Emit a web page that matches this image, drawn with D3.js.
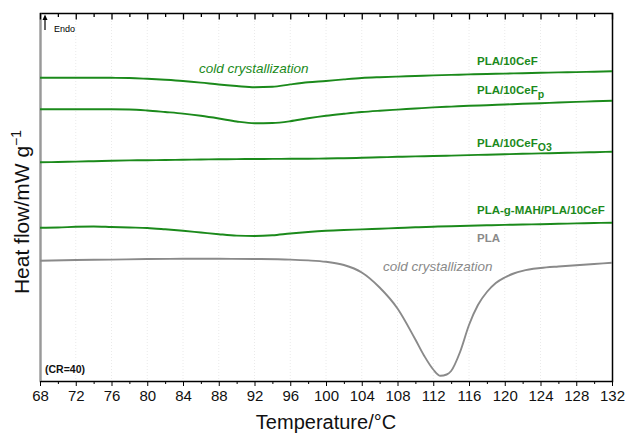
<!DOCTYPE html>
<html>
<head>
<meta charset="utf-8">
<script src="https://cdn.jsdelivr.net/npm/d3@7"></script>
<style>
  body { margin: 0; background: #fff; }
  svg { display: block; font-family: "Liberation Sans", Arial, sans-serif; }
</style>
</head>
<body>
<div id="chart"></div>
<script>
// temperatures (°C) shared by the four green curves
const temps = [68,70,72,74,76,78,80,82,84,86,88,90,92,94,96,98,100,
               102,104,106,108,110,112,114,116,118,120,122,124,126,128,130,132];

// heat flow (mW/g, curves shifted vertically)
const cefValues  = [3.033,3.033,3.033,3.033,3.032,3.030,3.022,3.012,3.000,2.984,2.965,2.950,2.938,2.942,2.966,2.987,3.000,
                    3.016,3.030,3.038,3.044,3.050,3.056,3.061,3.066,3.070,3.074,3.078,3.082,3.086,3.089,3.093,3.097];
const cefPValues = [2.717,2.717,2.717,2.717,2.717,2.715,2.705,2.690,2.674,2.652,2.625,2.595,2.577,2.580,2.598,2.627,2.652,
                    2.672,2.690,2.703,2.714,2.725,2.736,2.744,2.752,2.758,2.765,2.772,2.778,2.785,2.791,2.797,2.803];
const cefO3Values = [2.187,2.190,2.194,2.198,2.203,2.206,2.208,2.210,2.212,2.215,2.217,2.219,2.220,2.221,2.222,2.223,2.225,
                     2.228,2.232,2.237,2.242,2.246,2.250,2.254,2.259,2.263,2.268,2.272,2.276,2.280,2.284,2.288,2.293];
const mahValues  = [1.533,1.535,1.542,1.545,1.540,1.535,1.530,1.517,1.502,1.485,1.468,1.454,1.450,1.457,1.475,1.490,1.502,
                    1.510,1.516,1.523,1.530,1.537,1.543,1.548,1.552,1.557,1.561,1.565,1.568,1.572,1.576,1.580,1.583];

// neat PLA, finer steps around the cold crystallization peak
const plaTemps  = [68,72,76,80,84,88,92,96,98,100,102,104,106,108,110,111,112,112.8,113.5,114,115,116,117,118,119,120,121,122,124,126,128,130,132];
const plaValues = [1.203,1.210,1.214,1.220,1.222,1.222,1.220,1.214,1.206,1.192,1.160,1.085,0.935,0.725,0.415,0.250,0.115,0.052,0.065,0.100,
                   0.290,0.560,0.760,0.890,0.980,1.035,1.075,1.102,1.130,1.145,1.157,1.170,1.183];

const majorTicks = d3.range(68, 133, 4);
const minorTicks = d3.range(70, 132, 4);

const green = "#1b8a1b";
const grey = "#8a8a8a";

const W = 625, H = 434;
const margin = {top: 13, right: 13, bottom: 53, left: 40};
const plotW = W - margin.left - margin.right;
const plotH = H - margin.top - margin.bottom;

const svg = d3.select("#chart").append("svg")
    .attr("width", W).attr("height", H);

const x = d3.scaleLinear().domain([68, 132]).range([0, plotW]);
const y = d3.scaleLinear().domain([0, 3.68]).range([plotH, 0]);

const g = svg.append("g")
    .attr("transform", "translate(" + margin.left + "," + margin.top + ")");

// frame first: top/right dark, left grey
g.append("rect")
    .attr("x", 0.5).attr("y", 0.5)
    .attr("width", plotW).attr("height", plotH)
    .attr("fill", "none").attr("stroke", "#000").attr("stroke-width", 1.5);
g.append("line")
    .attr("x1", 0.5).attr("x2", 0.5).attr("y1", 0).attr("y2", plotH)
    .attr("stroke", "#999").attr("stroke-width", 1.5);

// faint dotted grid
g.selectAll("line.grid").data(majorTicks.slice(1, -1)).enter().append("line")
    .attr("class", "grid")
    .attr("x1", d => x(d)).attr("x2", d => x(d))
    .attr("y1", 8).attr("y2", plotH)
    .attr("stroke", "#e4e4e4").attr("stroke-width", 0.8)
    .attr("stroke-dasharray", "1,2");

// top ticks (inward)
g.selectAll("line.topmajor").data(majorTicks).enter().append("line")
    .attr("class", "topmajor")
    .attr("x1", d => x(d) + 0.5).attr("x2", d => x(d) + 0.5)
    .attr("y1", 0).attr("y2", 6.5)
    .attr("stroke", "#000").attr("stroke-width", 1.3);
g.selectAll("line.topminor").data(minorTicks).enter().append("line")
    .attr("class", "topminor")
    .attr("x1", d => x(d) + 0.5).attr("x2", d => x(d) + 0.5)
    .attr("y1", 0).attr("y2", 4)
    .attr("stroke", "#000").attr("stroke-width", 1.3);

// curves
const lineGen = d3.line()
    .x(d => x(d[0]))
    .y(d => y(d[1]))
    .curve(d3.curveMonotoneX);

[cefValues, cefPValues, cefO3Values, mahValues].forEach(vals => {
  g.append("path")
    .datum(temps.map((t, i) => [t, vals[i]]))
    .attr("fill", "none")
    .attr("stroke", green)
    .attr("stroke-width", 1.9)
    .attr("d", lineGen);
});
g.append("path")
  .datum(plaTemps.map((t, i) => [t, plaValues[i]]))
  .attr("fill", "none")
  .attr("stroke", grey)
  .attr("stroke-width", 1.9)
  .attr("d", lineGen);

// bottom axis (outward ticks)
const xAxis = g.append("g").attr("transform", "translate(0," + plotH + ")")
    .call(d3.axisBottom(x).tickValues(majorTicks).tickSize(5).tickPadding(4).tickFormat(d3.format("d")));
xAxis.select(".domain").attr("stroke", "#000");
xAxis.selectAll("text").attr("font-size", "15px").attr("fill", "#111")
    .attr("font-family", "Liberation Sans, Arial, sans-serif");

g.append("g").attr("transform", "translate(0," + plotH + ")")
    .call(d3.axisBottom(x).tickValues(minorTicks).tickSize(3).tickFormat(""))
    .select(".domain").remove();

// curve labels
function label(txt, sub, px, py, color) {
  const t = svg.append("text")
    .attr("x", px).attr("y", py)
    .attr("fill", color)
    .attr("font-weight", "bold")
    .attr("font-size", "11.5px")
    .text(txt);
  if (sub) {
    t.append("tspan").attr("dy", 4).attr("font-size", "10.5px").text(sub);
  }
}
label("PLA/10CeF", null, 477, 65, green);
label("PLA/10CeF", "p", 477, 94, green);
label("PLA/10CeF", "O3", 477, 147, green);
label("PLA-g-MAH/PLA/10CeF", null, 477, 214, green);
label("PLA", null, 477, 242, grey);

svg.append("text").attr("x", 199).attr("y", 73)
    .attr("fill", green).attr("font-style", "italic").attr("font-size", "13.5px")
    .text("cold crystallization");
svg.append("text").attr("x", 383).attr("y", 271)
    .attr("fill", grey).attr("font-style", "italic").attr("font-size", "13.5px")
    .text("cold crystallization");

// Endo arrow
svg.append("line").attr("x1", 45).attr("x2", 45).attr("y1", 30).attr("y2", 19)
    .attr("stroke", "#000").attr("stroke-width", 1.2);
svg.append("path").attr("d", "M42.5,20 L45,14.5 L47.5,20 Z").attr("fill", "#000");
svg.append("text").attr("x", 54).attr("y", 32).attr("font-size", "9px").attr("fill", "#000").text("Endo");

svg.append("text").attr("x", 45).attr("y", 373).attr("font-size", "10.5px")
    .attr("font-weight", "bold").attr("fill", "#111").text("(CR=40)");

// axis titles
svg.append("text")
    .attr("x", margin.left + plotW / 2).attr("y", 429)
    .attr("text-anchor", "middle").attr("font-size", "20px").attr("fill", "#111")
    .text("Temperature/°C");

const yt = svg.append("text")
    .attr("transform", "translate(29," + (margin.top + 199) + ") rotate(-90)")
    .attr("text-anchor", "middle").attr("font-size", "21px").attr("fill", "#111")
    .text("Heat flow/mW g");
yt.append("tspan").attr("dy", -8).attr("font-size", "14px").text("−1");
</script>
</body>
</html>
